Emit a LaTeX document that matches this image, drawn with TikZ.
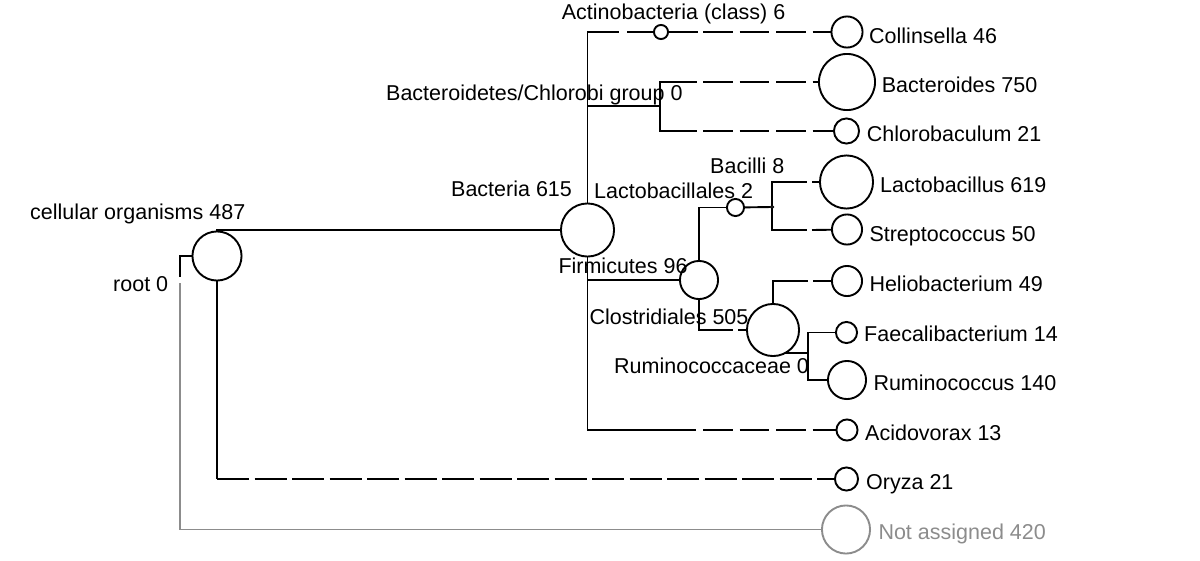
\documentclass[tikz,border=0pt]{standalone}
\usepackage{fontspec}
\setmainfont{Liberation Sans}
\usetikzlibrary{backgrounds}
\definecolor{nagrey}{RGB}{140,140,140}
\tikzset{
  edge/.style={line width=1.9pt},
  skip/.style={edge, dash pattern=on 29.5pt off 7pt},
  longskip/.style={edge, dash pattern=on 32pt off 5.5pt},
  taxon/.style={circle, draw, line width=1.9pt, fill=white, inner sep=0pt, minimum size=#1},
  lbl/.style={anchor=base west, inner sep=0pt, font=\fontsize{21.5}{25}\selectfont},
}
\begin{document}
\begin{tikzpicture}[x=1pt,y=-1pt]
\useasboundingbox (0,0) rectangle (1200,560);
% nodes
\node[inner sep=0pt, minimum size=6pt] (root) at (180,280) {};
\node[taxon=49.1] (cell) at (217,256) {};
\node[taxon=53.1] (bact) at (587.5,230) {};
\node[taxon=14.1] (actino) at (661,32) {};
\coordinate (bchl) at (660,106);
\node[taxon=31.1] (collin) at (847,32) {};
\node[taxon=56.1] (bacteroides) at (847,82) {};
\node[taxon=25.1] (chlorob) at (846.5,131) {};
\node[taxon=38.1] (firm) at (699,280) {};
\node[taxon=17.1] (bacilli) at (735.5,207.5) {};
\node[taxon=3, line width=1.3pt] (lactoales) at (772,207) {};
\node[taxon=53.1] (lactobac) at (846.5,182) {};
\node[taxon=30.1] (strep) at (847,229.5) {};
\node[taxon=52.1] (clos) at (773,330) {};
\node[taxon=30.1] (helio) at (847,281) {};
\coordinate (rumfam) at (808,353);
\node[taxon=21.1] (faecal) at (846.5,332.5) {};
\node[taxon=38.1] (rumino) at (847,380) {};
\node[taxon=21.1] (acido) at (847,430) {};
\node[taxon=23.1] (oryza) at (846.5,479) {};
\node[taxon=48.1, draw=nagrey] (notass) at (846,529.5) {};
% break points of dashed edges
\coordinate (oc) at (217,479);
\coordinate (a1) at (619,32);   \coordinate (a2) at (627,32);
\coordinate (ac1) at (696,430); \coordinate (ac2) at (703,430);
\coordinate (c1) at (698,32);   \coordinate (c2) at (703,32);
\coordinate (b1) at (697,82);   \coordinate (b2) at (703,82);
\coordinate (ch1) at (697,131); \coordinate (ch2) at (703,131);
\coordinate (cl1) at (733,330); \coordinate (cl2) at (738,330);
\coordinate (l1) at (807,182);  \coordinate (l2) at (812,182);
\coordinate (s1) at (807,230);  \coordinate (s2) at (812,230);
\coordinate (h1) at (808,281);  \coordinate (h2) at (813,281);
% edges
\begin{scope}[on background layer]
\draw[edge] (root) |- (cell);
\draw[edge, nagrey] (root) |- (notass);
\draw[edge] (cell.center) |- (bact);
\draw[edge] (cell.center) -- (oc);
\draw[longskip] (oc) -- (oryza);
\draw[edge] (bact.center) |- (a1);
\draw[skip] (a2) -- (actino);
\draw[edge] (bact.center) |- (bchl);
\draw[edge] (bact.center) |- (firm);
\draw[edge] (bact.center) |- (ac1);
\draw[skip] (ac2) -- (acido);
\draw[edge] (actino) -- (c1);
\draw[skip] (c2) -- (collin);
\draw[edge] (bchl) |- (b1);
\draw[skip] (b2) -- (bacteroides);
\draw[edge] (bchl) |- (ch1);
\draw[skip] (ch2) -- (chlorob);
\draw[edge] (firm.center) |- (bacilli);
\draw[edge] (firm.center) |- (cl1);
\draw[skip] (cl2) -- (clos);
\draw[edge] (bacilli) -- (lactoales);
\draw[edge] (lactoales.center) |- (l1);
\draw[skip] (l2) -- (lactobac);
\draw[edge] (lactoales.center) |- (s1);
\draw[skip] (s2) -- (strep);
\draw[edge] (clos.center) |- (h1);
\draw[skip] (h2) -- (helio);
\draw[edge] (clos.center) |- (rumfam);
\draw[edge] (rumfam) |- (faecal);
\draw[edge] (rumfam) |- (rumino);
\end{scope}
% labels
\node[lbl] (tcell) at (30,219.3) {cellular organisms 487};
\node[lbl] (troot) at (113,291) {root 0};
\node[lbl] (tactino) at (561.7,19.3) {Actinobacteria (class) 6};
\node[lbl] (tbchl) at (386,100) {Bacteroidetes/Chlorobi group 0};
\node[lbl] (tbact) at (451,196.7) {Bacteria 615};
\node[lbl] (tlactoales) at (594,198.3) {Lactobacillales 2};
\node[lbl] (tbacilli) at (710,173.3) {Bacilli 8};
\node[lbl] (tfirm) at (558.3,273.3) {Firmicutes 96};
\node[lbl] (tclos) at (589.3,324) {Clostridiales 505};
\node[lbl] (trumfam) at (614,373.3) {Ruminococcaceae 0};
\node[lbl] (tcollin) at (869,43) {Collinsella 46};
\node[lbl] (tbacteroides) at (881.7,92.7) {Bacteroides 750};
\node[lbl] (tchlorob) at (866.7,141.7) {Chlorobaculum 21};
\node[lbl] (tlactobac) at (880,192.3) {Lactobacillus 619};
\node[lbl] (tstrep) at (869.3,241) {Streptococcus 50};
\node[lbl] (thelio) at (869.3,291) {Heliobacterium 49};
\node[lbl] (tfaecal) at (864,341.7) {Faecalibacterium 14};
\node[lbl] (trumino) at (873.3,390) {Ruminococcus 140};
\node[lbl] (tacido) at (865,440.7) {Acidovorax 13};
\node[lbl] (toryza) at (866,489.3) {Oryza 21};
\node[lbl, text=nagrey] (tnotass) at (878.3,539.3) {Not assigned 420};
\end{tikzpicture}
\end{document}
